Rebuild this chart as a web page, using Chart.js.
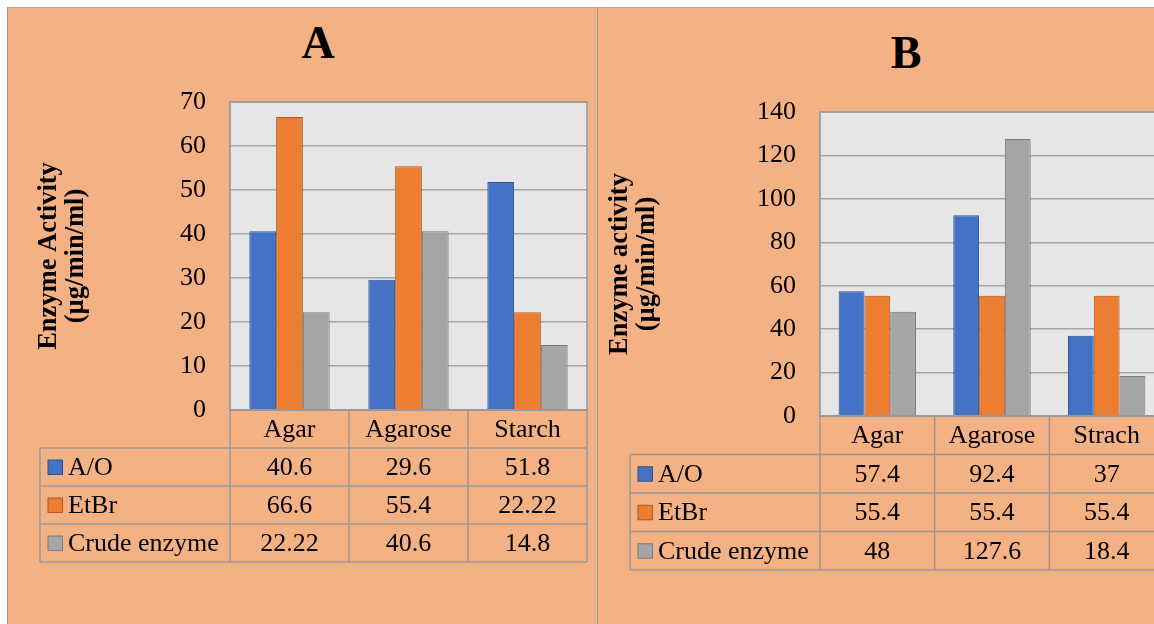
<!DOCTYPE html>
<html>
<head>
<meta charset="utf-8">
<script src="https://cdn.jsdelivr.net/npm/chart.js@4.4.0/dist/chart.umd.min.js"></script>
<style>
  html, body { margin: 0; padding: 0; background: #fff; }
  body { width: 1154px; height: 624px; overflow: hidden; position: relative; font-family: 'Liberation Serif', 'Times New Roman', serif; }
  .panel { position: absolute; top: 7px; height: 617px; background: #F4B183; border-left: 1px solid #9a9a9a; border-top: 1px solid #a8a8a8; box-sizing: border-box; }
  #panelA { left: 7px; width: 591px; }
  #panelB { left: 597px; width: 557px; }
  .title { position: absolute; width: 200px; text-align: center; font-weight: bold; font-size: 46px; line-height: 46px; color: #000; }
  canvas { position: absolute; top: 0; }
</style>
</head>
<body>
<div class="panel" id="panelA"></div>
<div class="panel" id="panelB"></div>
<div class="title" style="left:218px; top:20px;">A</div>
<div class="title" style="left:806px; top:30px;">B</div>
<canvas id="chartA" width="598" height="624" style="left:0"></canvas>
<canvas id="chartB" width="580" height="624" style="left:598px"></canvas>

<script>
// panel A data
const categoriesA = ['Agar', 'Agarose', 'Starch'];
const aoA = [40.6, 29.6, 51.8];
const etbrA = [66.6, 55.4, 22.22];
const crudeA = [22.22, 40.6, 14.8];
const yTicksA = [0, 10, 20, 30, 40, 50, 60, 70];

// panel B data
const categoriesB = ['Agar', 'Agarose', 'Strach'];
const aoB = [57.4, 92.4, 37];
const etbrB = [55.4, 55.4, 55.4];
const crudeB = [48, 127.6, 18.4];
const yTicksB = [0, 20, 40, 60, 80, 100, 120, 140];

const seriesNames = ['A/O', 'EtBr', 'Crude enzyme'];
const fills = ['#4472C4', '#ED7D31', '#A5A5A5'];
const edges = ['#2F528F', '#AE5A21', '#7B7B7B'];

const FONT = "'Liberation Serif', 'Times New Roman', serif";
const LINE = '#999999';

// plot background + data table drawn under the chart area
const dataTable = {
  id: 'dataTable',
  beforeDraw(chart) {
    const { ctx, chartArea: a } = chart;
    ctx.save();
    ctx.fillStyle = '#E6E6E6';
    ctx.fillRect(a.left, a.top, a.width, a.height);
    ctx.restore();
  },
  afterDraw(chart, args, opts) {
    const { ctx, chartArea: a } = chart;
    const xs = chart.scales.x;
    const labels = chart.data.labels;
    const sets = chart.data.datasets;
    const cw = a.width / labels.length;
    const rh = opts.rowHeight;
    const left = opts.tableLeft;
    const top = a.bottom;
    const bottom = top + rh * (sets.length + 1);

    ctx.save();
    ctx.strokeStyle = LINE;
    ctx.lineWidth = 1.5;
    ctx.strokeRect(a.left, a.top, a.width, a.height);

    ctx.beginPath();
    // header row
    ctx.moveTo(a.left, top); ctx.lineTo(a.right, top);
    for (let k = 1; k <= sets.length + 1; k++) {
      ctx.moveTo(left, top + rh * k); ctx.lineTo(a.right, top + rh * k);
    }
    ctx.moveTo(left, top + rh); ctx.lineTo(left, bottom);
    for (let i = 0; i <= labels.length; i++) {
      const x = a.left + cw * i;
      ctx.moveTo(x, top); ctx.lineTo(x, bottom);
    }
    ctx.stroke();

    ctx.fillStyle = '#000';
    ctx.font = '26px ' + FONT;
    ctx.textBaseline = 'middle';
    ctx.textAlign = 'center';
    labels.forEach((lab, i) => ctx.fillText(lab, xs.getPixelForValue(i), top + rh / 2 + 1));

    sets.forEach((ds, d) => {
      const cy = top + rh * (d + 1) + rh / 2;
      ctx.fillStyle = ds.backgroundColor;
      ctx.fillRect(left + 8, cy - 7, 14.5, 14.5);
      ctx.strokeStyle = ds.borderColor;
      ctx.lineWidth = 1;
      ctx.strokeRect(left + 8, cy - 7, 14.5, 14.5);
      ctx.fillStyle = '#000';
      ctx.textAlign = 'left';
      ctx.fillText(ds.label, left + 28, cy + 1);
      ctx.textAlign = 'center';
      ds.data.forEach((v, i) => ctx.fillText(String(v), xs.getPixelForValue(i), cy + 1));
    });
    ctx.restore();
  }
};

function makeChart(id, labels, series, yTicks, yTitle, cfg) {
  return new Chart(document.getElementById(id), {
    type: 'bar',
    data: {
      labels: labels,
      datasets: series.map((vals, i) => ({
        label: seriesNames[i],
        data: vals,
        backgroundColor: fills[i],
        borderColor: edges[i],
        borderWidth: 1,
        categoryPercentage: 0.675,
        barPercentage: 1
      }))
    },
    options: {
      responsive: false,
      animation: false,
      devicePixelRatio: 1,
      layout: { padding: { left: 0, top: cfg.top, right: cfg.right, bottom: cfg.bottom } },
      plugins: {
        legend: { display: false },
        tooltip: { enabled: false },
        dataTable: { tableLeft: cfg.tableLeft, rowHeight: cfg.rowHeight }
      },
      scales: {
        x: { display: false },
        y: {
          min: yTicks[0],
          max: yTicks[yTicks.length - 1],
          afterBuildTicks: s => { s.ticks = yTicks.map(v => ({ value: v })); },
          afterFit: s => { s.width = cfg.axisWidth; },
          ticks: { color: '#000', font: { family: FONT, size: 26 }, padding: 24 },
          grid: { color: '#A5A5A5', lineWidth: 1.5, drawTicks: false },
          border: { display: true, color: '#A5A5A5', width: 1.5 },
          title: {
            display: true,
            text: yTitle,
            color: '#000',
            font: { family: FONT, size: 26.5, weight: 'bold', lineHeight: 1.0 },
            padding: { top: cfg.titlePad, bottom: 0 }
          }
        }
      }
    },
    plugins: [dataTable]
  });
}

makeChart('chartA', categoriesA, [aoA, etbrA, crudeA], yTicksA,
  ['Enzyme Activity', '(µg/min/ml)'],
  { top: 102, right: 11, bottom: 214, axisWidth: 230, titlePad: 36, tableLeft: 40, rowHeight: 38 });

makeChart('chartB', categoriesB, [aoB, etbrB, crudeB], yTicksB,
  ['Enzyme activity', '(µg/min/ml)'],
  { top: 112, right: 14, bottom: 208, axisWidth: 222, titlePad: 9, tableLeft: 32, rowHeight: 38.5 });
</script>
</body>
</html>
